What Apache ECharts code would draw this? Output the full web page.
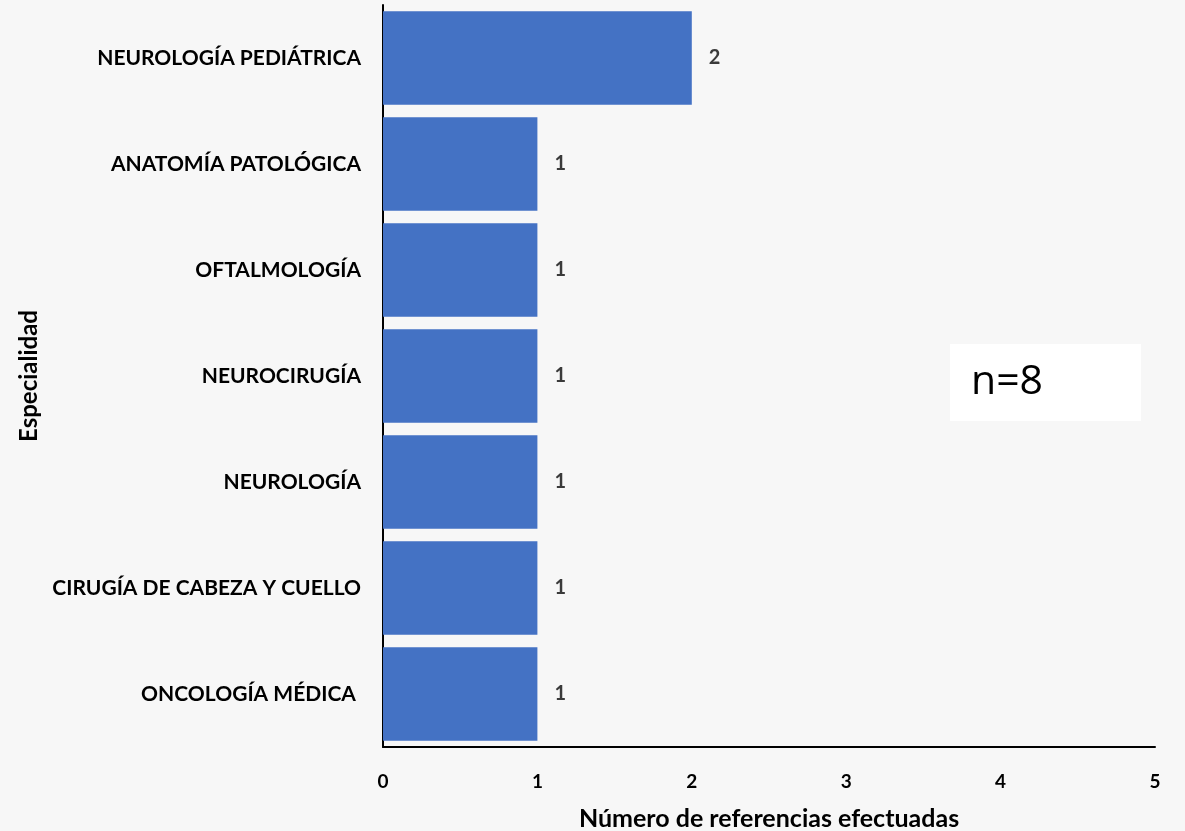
<!DOCTYPE html>
<html><head><meta charset="utf-8">
<script src="https://cdn.jsdelivr.net/npm/echarts@6/dist/echarts.min.js"></script>
<style>html,body{margin:0;padding:0;background:#f7f7f7;}#c{width:1185px;height:831px;}</style>
</head><body><div id="c"></div>
<script>
const categories = ['ONCOLOGÍA MÉDICA ', 'CIRUGÍA DE CABEZA Y CUELLO', 'NEUROLOGÍA', 'NEUROCIRUGÍA', 'OFTALMOLOGÍA', 'ANATOMÍA PATOLÓGICA', 'NEUROLOGÍA PEDIÁTRICA'];
const values = [1, 1, 1, 1, 1, 1, 2];
const xTicks = [0, 1, 2, 3, 4, 5];
const xTitle = 'Número de referencias efectuadas';
const yTitle = 'Especialidad';
const note = 'n=8';
const FONT = 'Lato, "Open Sans", sans-serif';
const chart = echarts.init(document.getElementById('c'));
chart.setOption({
  backgroundColor: '#f7f7f7',
  animation: false,
  grid: {left: 383, right: 30, top: 5, bottom: 84, containLabel: false, outerBoundsMode: 'none'},
  xAxis: {
    type: 'value', min: xTicks[0], max: xTicks[xTicks.length-1], interval: 1,
    axisLine: {show: true, lineStyle: {color: '#000', width: 2}},
    axisTick: {show: false}, splitLine: {show: false},
    axisLabel: {margin: 25, color: '#000', fontFamily: FONT, fontWeight: 'bold', fontSize: 19},
    name: xTitle, nameLocation: 'middle', nameGap: 59,
    nameTextStyle: {color: '#000', fontFamily: FONT, fontWeight: 'bold', fontSize: 25}
  },
  yAxis: {
    type: 'category', data: categories,
    axisLine: {show: true, lineStyle: {color: '#000', width: 2}},
    axisTick: {show: false},
    axisLabel: {margin: 22, color: '#000', fontFamily: FONT, fontWeight: 'bold', fontSize: 21},
    name: yTitle, nameLocation: 'middle', nameGap: 336, nameRotate: 90,
    nameTextStyle: {color: '#000', fontFamily: FONT, fontWeight: 'bold', fontSize: 24}
  },
  series: [{
    type: 'bar', data: values, barCategoryGap: '12%',
    itemStyle: {color: '#4472C4'},
    label: {show: true, position: 'right', distance: 17, color: '#3a3a3a', fontFamily: FONT, fontWeight: 'bold', fontSize: 20}
  }],
  graphic: [
    {type: 'rect', left: 950, top: 344, shape: {width: 191, height: 77}, style: {fill: '#fff'}},
    {type: 'text', left: 971, top: 362, style: {text: note, fill: '#000', font: '41px "Open Sans", sans-serif'}}
  ]
});
</script></body></html>
